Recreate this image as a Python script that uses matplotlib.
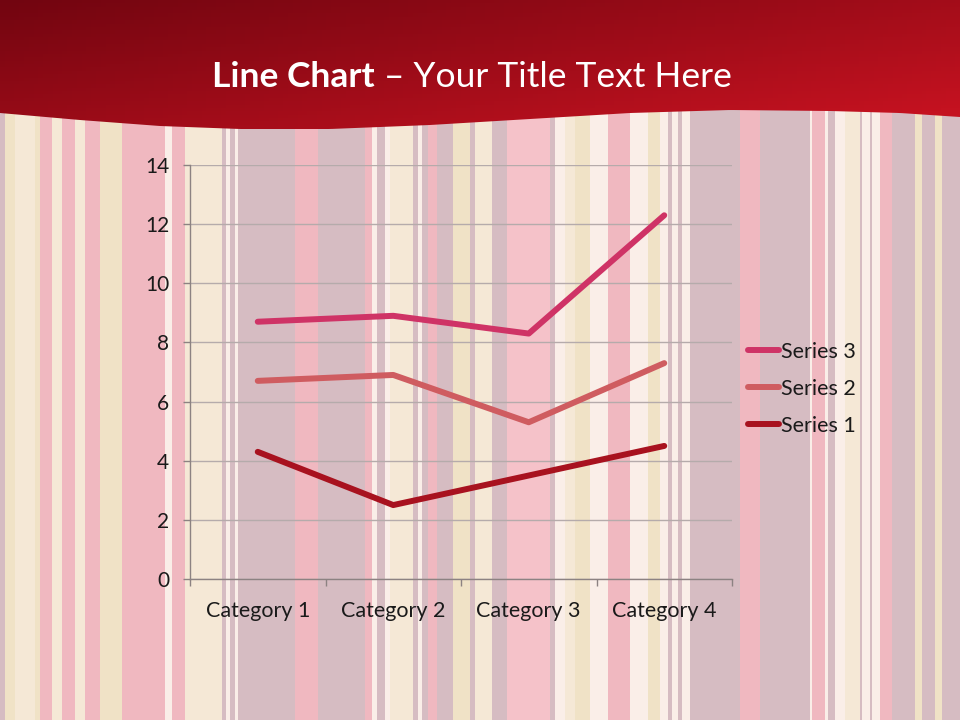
import numpy as np
import matplotlib
matplotlib.use("Agg")
import matplotlib.pyplot as plt
from matplotlib.patches import Rectangle, Polygon

# ---- data ----
categories = ["Category 1", "Category 2", "Category 3", "Category 4"]
series1 = [4.3, 2.5, 3.5, 4.5]
series2 = [2.4, 4.4, 1.8, 2.8]
series3 = [2.0, 2.0, 3.0, 5.0]
series_names = ["Series 1", "Series 2", "Series 3"]
y_ticks = [0, 2, 4, 6, 8, 10, 12, 14]

colors = ["#a8121f", "#cf5c60", "#cf3366"]

plt.rcParams['font.family'] = ['Lato', 'DejaVu Sans']

W, H = 960, 720
fig = plt.figure(figsize=(9.6, 7.2), dpi=100)

# ---- striped background (decoration) ----
bg = fig.add_axes([0, 0, 1, 1], zorder=-10)
bg.set_xlim(0, W)
bg.set_ylim(H, 0)
bg.axis('off')
C = {"m": "#d6bcc2", "y": "#f0e2c6", "c": "#f5e8d6", "p": "#f0b8c0",
     "lp": "#f5c2c9", "w": "#faeee8"}
stripes = [(0, 5, "m"), (5, 15, "y"), (15, 35, "c"), (35, 40, "y"), (40, 52, "p"),
           (52, 62, "c"), (62, 75, "p"), (75, 85, "c"), (85, 100, "p"), (100, 122, "y"),
           (122, 165, "p"), (165, 172, "w"), (172, 185, "p"), (185, 222, "c"),
           (222, 226, "m"), (226, 230, "w"), (230, 235, "m"), (235, 238, "w"),
           (238, 295, "m"), (295, 318, "p"), (318, 365, "m"), (365, 372, "p"),
           (372, 377, "w"), (377, 385, "m"), (385, 390, "w"), (390, 413, "c"),
           (413, 418, "m"), (418, 422, "w"), (422, 428, "m"), (428, 437, "p"),
           (437, 453, "m"), (453, 470, "y"), (470, 475, "m"), (475, 492, "c"),
           (492, 507, "m"), (507, 550, "lp"), (550, 555, "m"), (555, 565, "w"),
           (565, 575, "c"), (575, 590, "y"), (590, 608, "w"), (608, 630, "p"),
           (630, 648, "w"), (648, 660, "y"), (660, 668, "w"), (668, 672, "m"),
           (672, 678, "w"), (678, 682, "m"), (682, 690, "w"), (690, 740, "m"),
           (740, 760, "p"), (760, 810, "m"), (810, 812, "w"), (812, 825, "p"),
           (825, 828, "w"), (828, 835, "m"), (835, 845, "w"), (845, 860, "c"),
           (860, 862, "m"), (862, 870, "w"), (870, 872, "m"), (872, 880, "w"),
           (880, 892, "p"), (892, 915, "m"), (915, 922, "y"), (922, 935, "m"),
           (935, 942, "y"), (942, 960, "m")]
for x0, x1, k in stripes:
    bg.add_patch(Rectangle((x0, 0), x1 - x0, H, color=C[k], lw=0))

# ---- red wavy header ----
wave_x = np.array([0, 80, 160, 240, 330, 430, 530, 630, 730, 830, 900, 960])
wave_y = np.array([113, 120, 126, 129, 129, 125, 119, 113, 110, 111, 113, 117])
xs = np.linspace(0, W, 200)
ys = np.interp(xs, wave_x, wave_y)
poly_pts = [(0, 0), (W, 0)] + list(zip(xs[::-1], ys[::-1]))
header = Polygon(poly_pts, closed=True, facecolor='none', edgecolor='none')
bg.add_patch(header)
gx, gy = np.meshgrid(np.linspace(0, 1, 200), np.linspace(0, 1, 40))
t = np.clip(0.6 * gx + 0.5 * gy, 0, 1)
c0 = np.array([0x72, 0x05, 0x10]) / 255
c1 = np.array([0xc4, 0x12, 0x20]) / 255
img = c0[None, None, :] * (1 - t[..., None]) + c1[None, None, :] * t[..., None]
im = bg.imshow(img, extent=(0, W, 135, 0), aspect='auto', zorder=1)
im.set_clip_path(header)

# ---- title ----
renderer = fig.canvas.get_renderer()
t1 = fig.text(0, 0, "Line Chart", fontsize=25.5, fontweight='bold', color='white')
t2 = fig.text(0, 0, " \u2013 Your Title Text Here", fontsize=25.5, color='white')
w1 = t1.get_window_extent(renderer).width
w2 = t2.get_window_extent(renderer).width
cx, cy = 472, 77
start = cx - (w1 + w2) / 2
t1.set_position((start / W, 1 - cy / H))
t1.set_va('center')
t2.set_position(((start + w1) / W, 1 - cy / H))
t2.set_va('center')

# ---- chart ----
ax = fig.add_axes([190 / W, 1 - 579 / H, (732 - 190) / W, (579 - 165) / H])
ax.patch.set_alpha(0)
x = np.arange(len(categories))
s1 = np.array(series1)
s2 = s1 + np.array(series2)
s3 = s2 + np.array(series3)
stacked = [s1, s2, s3]
lines = []
for vals, name, col in zip(stacked, series_names, colors):
    ln, = ax.plot(x, vals, color=col, lw=4.3, solid_capstyle='round',
                  solid_joinstyle='round', label=name, zorder=3)
    lines.append(ln)

ax.set_xlim(-0.5, len(categories) - 0.5)
ax.set_ylim(0, 14)
ax.set_yticks(y_ticks)
ax.set_xticks(x)
ax.set_xticklabels(categories)
ax.set_xticks(np.arange(-0.5, len(categories)), minor=True)
ax.tick_params(axis='x', which='major', length=0, pad=16, labelsize=15.5,
               colors='#1a1a1a')
ax.tick_params(axis='x', which='minor', length=5, width=1, color='#8c8282',
               direction='out')
ax.tick_params(axis='y', length=5, width=1, color='#8c8282', pad=10,
               labelsize=15, labelcolor='#1a1a1a')
ax.grid(axis='y', color='#b5abab', lw=1)
ax.set_axisbelow(True)
for s in ['top', 'right']:
    ax.spines[s].set_visible(False)
for s in ['left', 'bottom']:
    ax.spines[s].set_color('#8c8282')
    ax.spines[s].set_linewidth(1)

handles = lines[::-1]
leg = fig.legend(handles, [h.get_label() for h in handles],
                 loc='upper left', bbox_to_anchor=(748 / W, 1 - 342 / H),
                 frameon=False, fontsize=15.5, handlelength=1.45,
                 handletextpad=0.08, labelspacing=0.78, borderaxespad=0,
                 borderpad=0)
for txt in leg.get_texts():
    txt.set_color('#1a1a1a')

fig.savefig("out.png", dpi=100)
